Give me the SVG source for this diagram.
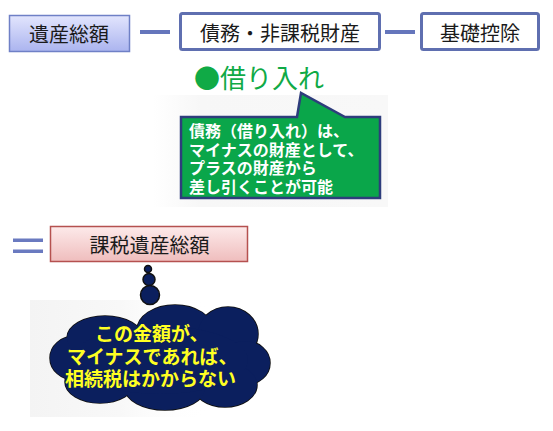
<svg xmlns="http://www.w3.org/2000/svg" width="553" height="431" viewBox="0 0 553 431">
<defs>
<linearGradient id="gBlue" x1="0" y1="0" x2="0" y2="1"><stop offset="0" stop-color="#e2e5fd"/><stop offset="1" stop-color="#abb4ef"/></linearGradient>
<linearGradient id="gPink" x1="0" y1="0" x2="0" y2="1"><stop offset="0" stop-color="#fdeaea"/><stop offset="1" stop-color="#efbdbd"/></linearGradient>
<linearGradient id="gShade1" x1="0" y1="0" x2="1" y2="0"><stop offset="0" stop-color="#ffffff"/><stop offset="0.2" stop-color="#f7f7f7"/><stop offset="1" stop-color="#f8f8f8"/></linearGradient>
<linearGradient id="gShade2" x1="0" y1="0" x2="1" y2="0"><stop offset="0" stop-color="#f4f4f4"/><stop offset="0.5" stop-color="#f8f8f8"/><stop offset="1" stop-color="#ffffff" stop-opacity="0"/></linearGradient>
</defs>
<style>
.jp{font-family:"Noto Sans CJK JP","Noto Sans CJK SC",sans-serif}
.lbl{font-size:20px;fill:#1a1a1a;text-anchor:middle;dominant-baseline:central}
.box{fill:#ffffff;stroke:#5f6fb0;stroke-width:3}
.conn{stroke:#6576bc;stroke-width:4;fill:none}
.cw{font-size:16px;font-weight:bold;fill:#ffffff}
.cy{font-size:19px;font-weight:bold;fill:#ffff22}
.cl{fill:#0b1f5e}
.clo{fill:#0b1f5e;stroke:#111111;stroke-width:1.5}
</style>
<rect width="553" height="431" fill="#ffffff"/>
<rect x="153" y="95" width="235" height="112" fill="url(#gShade1)"/>
<rect x="30" y="300" width="180" height="117" fill="url(#gShade2)"/>

<g id="connectors">
<line class="conn" x1="140" y1="32" x2="170" y2="32"/>
<line class="conn" x1="385" y1="32" x2="415" y2="32"/>
<rect x="13" y="238.5" width="30" height="3.5" fill="#6a7ac0"/>
<rect x="13" y="249.5" width="30" height="3.5" fill="#6a7ac0"/>
</g>

<g id="node-isan">
<rect x="9.5" y="15.5" width="120" height="36" fill="url(#gBlue)" stroke="#6f80c6" stroke-width="1.5"/>
<text class="jp lbl" x="69" y="33">遺産総額</text>
</g>
<g id="node-saimu">
<rect class="box" x="180.5" y="13.5" width="199" height="36" rx="2"/>
<text class="jp lbl" x="280" y="32">債務・非課税財産</text>
</g>
<g id="node-kiso">
<rect class="box" x="421.5" y="13.5" width="117" height="36" rx="2"/>
<text class="jp lbl" x="480" y="32">基礎控除</text>
</g>

<g id="node-kariire">
<text class="jp" x="194" y="88" font-size="26" fill="#10aa46">●借り入れ</text>
</g>

<g id="node-callout">
<path d="M181,117 L297,117 L301,93 L345,117 L380,117 L380,198 L181,198 Z" fill="#0aa64a" stroke="#2e3d7c" stroke-width="2.5" stroke-linejoin="miter"/>
<text class="jp cw" x="189" y="137">債務（借り入れ）は、</text>
<text class="jp cw" x="189" y="155.5">マイナスの財産として、</text>
<text class="jp cw" x="189" y="174">プラスの財産から</text>
<text class="jp cw" x="189" y="192.5">差し引くことが可能</text>
</g>

<g id="node-kazei">
<rect x="50.5" y="226.5" width="197" height="35" fill="url(#gPink)" stroke="#b5514f" stroke-width="1.5"/>
<text class="jp lbl" x="149.5" y="244">課税遺産総額</text>
</g>

<g id="node-cloud">
<circle class="clo" cx="148" cy="269" r="3.5"/>
<circle class="clo" cx="149" cy="279.5" r="6"/>
<circle class="clo" cx="150" cy="295" r="9.5"/>
<g>
<ellipse class="clo" cx="75" cy="358" rx="25" ry="22"/>
<ellipse class="clo" cx="105" cy="338" rx="38" ry="22"/>
<ellipse class="clo" cx="175" cy="330" rx="38" ry="25"/>
<ellipse class="clo" cx="228" cy="334" rx="30" ry="27"/>
<ellipse class="clo" cx="245" cy="363" rx="25" ry="22"/>
<ellipse class="clo" cx="225" cy="385" rx="32" ry="22"/>
<ellipse class="clo" cx="165" cy="388" rx="40" ry="22"/>
<ellipse class="clo" cx="100" cy="382" rx="35" ry="21"/>
</g>
<g>
<ellipse class="cl" cx="75" cy="358" rx="25" ry="22"/>
<ellipse class="cl" cx="105" cy="338" rx="38" ry="22"/>
<ellipse class="cl" cx="175" cy="330" rx="38" ry="25"/>
<ellipse class="cl" cx="228" cy="334" rx="30" ry="27"/>
<ellipse class="cl" cx="245" cy="363" rx="25" ry="22"/>
<ellipse class="cl" cx="225" cy="385" rx="32" ry="22"/>
<ellipse class="cl" cx="165" cy="388" rx="40" ry="22"/>
<ellipse class="cl" cx="100" cy="382" rx="35" ry="21"/>
<ellipse class="cl" cx="160" cy="360" rx="88" ry="34"/>
</g>
<text class="jp cy" x="95" y="341">この金額が、</text>
<text class="jp cy" x="67" y="364">マイナスであれば、</text>
<text class="jp cy" x="65" y="386">相続税はかからない</text>
</g>
</svg>
